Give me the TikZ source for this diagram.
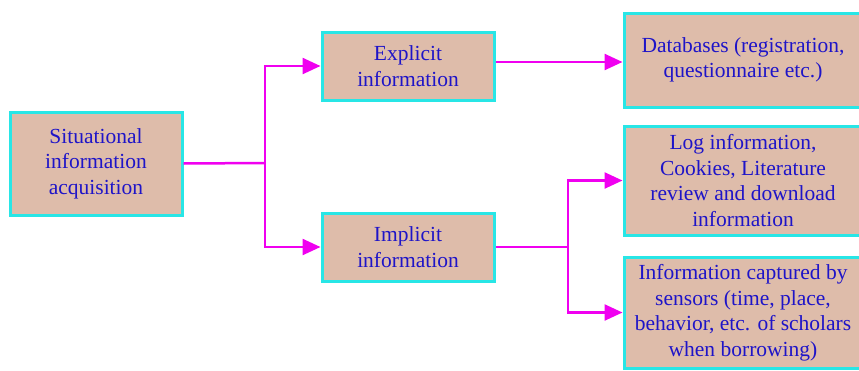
\documentclass[tikz,border=0pt]{standalone}
\usepackage{fontspec}
\setmainfont{Liberation Serif}
\newfontfamily\boxserif{Liberation Serif}
\usetikzlibrary{arrows.meta}
\definecolor{boxfill}{RGB}{222,188,170}
\definecolor{boxline}{RGB}{40,230,230}
\definecolor{txt}{RGB}{30,20,200}
\definecolor{conn}{RGB}{240,0,240}
\begin{document}
\begin{tikzpicture}[x=1pt,y=-1pt,
  box/.style={draw=boxline, fill=boxfill, line width=3pt, text=txt, align=center,
    font=\boxserif\fontsize{21.5}{25.5}\selectfont, inner sep=0pt},
  link/.style={draw=conn, line width=2.5pt},
  arr/.style={link, -{Triangle[length=18pt,width=16pt]}}]
\useasboundingbox (0,0) rectangle (859,370);
\begin{scope}
\clip (0,0) rectangle (859,370);
\node[box, minimum width=172pt, minimum height=103pt] (sit) at (96,163.5) {Situational\\information\\acquisition};
\node[box, minimum width=172pt, minimum height=68pt] (exp) at (408,66) {Explicit\\information};
\node[box, minimum width=172pt, minimum height=68pt] (imp) at (408,247) {Implicit\\information};
\node[box, minimum width=238pt, minimum height=94pt] (db) at (743,60) {Databases (registration,\\questionnaire etc.)};
\node[box, minimum width=238pt, minimum height=109pt] (log) at (743,180.5) {Log information,\\Cookies, Literature\\review and download\\information};
\node[box, minimum width=238pt, minimum height=111pt] (sen) at (743,312.5) {Information captured by\\sensors (time, place,\\behavior, etc. of scholars\\when borrowing)};
\end{scope}
\coordinate (j1) at (265,163);
\coordinate (j2) at (568,247);
\draw[link] (sit.east) -- (j1);
\draw[arr] (j1) |- (exp.west);
\draw[arr] (j1) |- (imp.west);
\draw[arr] (exp.east |- 0,62) -- (db.west |- 0,62);
\draw[link] (imp.east) -- (j2);
\draw[arr] (j2) |- (log.west);
\draw[arr] (j2) |- (sen.west);
\end{tikzpicture}
\end{document}
